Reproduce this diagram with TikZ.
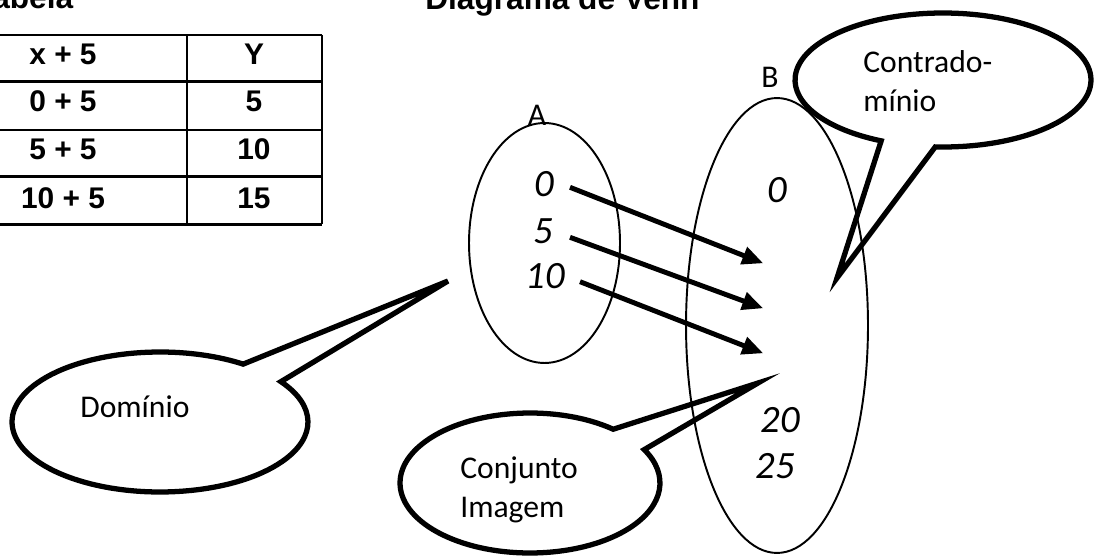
\documentclass[tikz,border=0pt]{standalone}
\usepackage{fontspec}
\setmainfont{Carlito}
\newfontfamily\arialfont{Liberation Sans}
\usetikzlibrary{arrows.meta}
\begin{document}
\begin{tikzpicture}[x=0.02cm,y=0.02cm,
  every node/.style={inner sep=0pt},
  setline/.style={line width=1.1pt},
  calloutline/.style={line width=3pt, line join=miter},
  maparrow/.style={line width=2.8pt, -{Triangle[length=12pt,width=10pt]}},
  num/.style={font=\fontsize{22}{26}\selectfont\itshape, anchor=base},
  lbl/.style={font=\fontsize{18}{22}\selectfont},
  tab/.style={font=\arialfont\bfseries\fontsize{17}{20}\selectfont, anchor=base},
  tabline/.style={line width=1.5pt},
  ttl/.style={font=\arialfont\bfseries\fontsize{18}{21}\selectfont, anchor=base west}]
\useasboundingbox (0,0) rectangle (1098,555);
\clip (0,0) rectangle (1098,555);

% titles
\node[ttl] (ttab) at (-25,546.7) {Tabela};
\node[ttl] (tven) at (425,545) {Diagrama de Venn};

% table
\foreach \yy in {520,473.3,425,378.3,330.7} \draw[tabline] (-10,\yy) -- (322,\yy);
\draw[tabline] (187,520) -- (187,330.7);
\draw[tabline] (322,520) -- (322,330.7);
\node[tab] (c11) at (63,490) {x + 5};
\node[tab] (c12) at (254,490) {Y};
\node[tab] (c21) at (63,443.3) {0 + 5};
\node[tab] (c22) at (254,443.3) {5};
\node[tab] (c31) at (63,395) {5 + 5};
\node[tab] (c32) at (254,395) {10};
\node[tab] (c41) at (63,346.7) {10 + 5};
\node[tab] (c42) at (254,346.7) {15};

% sets
\node[lbl, anchor=base] (labA) at (537,429) {A};
\node[lbl, anchor=base] (labB) at (770,467) {B};
\draw[setline] (544.5,312) ellipse [x radius=1.51cm, y radius=2.4cm];
\draw[setline] (777,229.5) ellipse [x radius=1.82cm, y radius=4.55cm];

\node[num] (a0) at (544,358) {0};
\node[num] (a5) at (543,312) {5};
\node[num] (a10) at (545,267) {10};
\node[num] (b0) at (777,352) {0};
\node[num] (b20) at (780,123) {20};
\node[num] (b25) at (775,77) {25};

% arrows
\coordinate (s1) at (570,367.7);
\coordinate (e1) at (763.3,291.7);
\coordinate (s2) at (570,317.7);
\coordinate (e2) at (763.3,246.7);
\coordinate (s3) at (580,273.3);
\coordinate (e3) at (763.3,201.7);
\draw[maparrow] (s1) -- (e1);
\draw[maparrow] (s2) -- (e2);
\draw[maparrow] (s3) -- (e3);

% callouts
\coordinate (cdom) at (160,133);
\coordinate (tipdom) at (448,274);
\draw[calloutline] (cdom) ++(55.8:2.96cm and 1.4cm)
  arc[start angle=55.8, end angle=395.2, x radius=2.96cm, y radius=1.4cm]
  -- (tipdom) -- cycle;
\node[lbl, anchor=base west] (tdom) at (80,138) {Domínio};

\coordinate (ccon) at (943,475);
\coordinate (tipcon) at (837,277);
\draw[calloutline] (ccon) ++(267:2.96cm and 1.34cm)
  arc[start angle=267, end angle=605.3, x radius=2.96cm, y radius=1.34cm]
  -- (tipcon) -- cycle;
\node[lbl, anchor=base west] (tcon1) at (863,482) {Contrado-};
\node[lbl, anchor=base west] (tcon2) at (863,443) {mínio};

\coordinate (cimg) at (530,72);
\coordinate (tipimg) at (758,172);
\draw[calloutline] (cimg) ++(50.2:2.6cm and 1.4cm)
  arc[start angle=50.2, end angle=388.5, x radius=2.6cm, y radius=1.4cm]
  -- (tipimg) -- cycle;
\node[lbl, anchor=base west] (timg1) at (460,77) {Conjunto};
\node[lbl, anchor=base west] (timg2) at (460,38) {Imagem};
\end{tikzpicture}
\end{document}
